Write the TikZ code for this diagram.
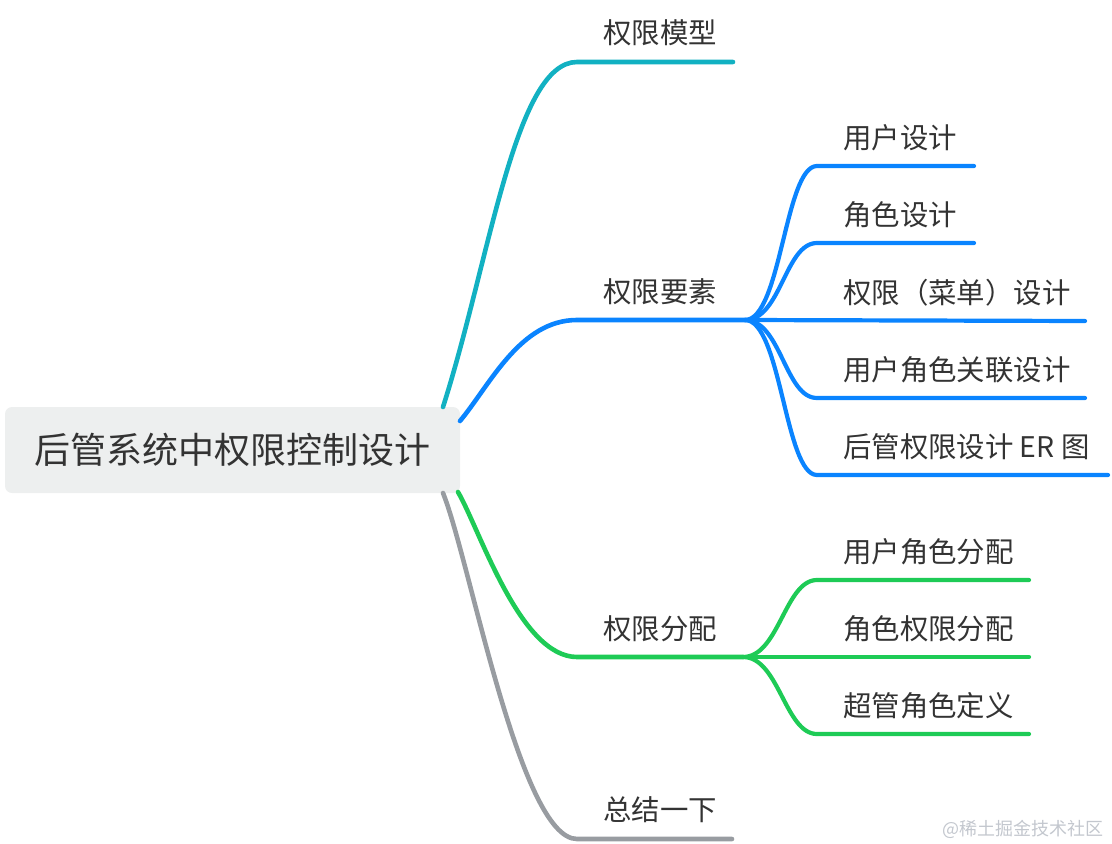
\documentclass[tikz,border=0pt]{standalone}
\usepackage{fontspec}
\setmainfont{Noto Sans CJK SC}
\definecolor{cteal}{HTML}{12B1C2}
\definecolor{cblue}{HTML}{0A84FF}
\definecolor{cgreen}{HTML}{1ECB56}
\definecolor{cgray}{HTML}{989CA1}
\definecolor{rootfill}{HTML}{EDEFEF}
\definecolor{txt}{HTML}{333333}
\definecolor{wm}{HTML}{C3C7CE}
\begin{document}
\begin{tikzpicture}[x=1pt,y=-1pt,line cap=round,
  rootbox/.style={fill=rootfill,rounded corners=7pt,minimum width=455pt,minimum height=86pt,inner sep=0pt,text=txt,font=\fontsize{36}{40}\selectfont},
  lab/.style={anchor=base west,inner sep=0pt,text=txt,font=\fontsize{28.4}{31}\selectfont},
  mainbr/.style={line width=4.6pt},
  subbr/.style={line width=4.2pt}]
\useasboundingbox (0,0) rectangle (1112,844);
\node[rootbox] (root) at (232.5,450) {后管系统中权限控制设计};
% level 1 labels
\node[lab] (m1) at (603,43) {权限模型};
\node[lab] (m2) at (603,302) {权限要素};
\node[lab] (m3) at (603,639) {权限分配};
\node[lab] (m4) at (603,820) {总结一下};
% level 2 labels (blue)
\node[lab] (b1) at (843,148) {用户设计};
\node[lab] (b2) at (843,225) {角色设计};
\node[lab] (b3) at (843,303) {权限（菜单）设计};
\node[lab] (b4) at (843,380) {用户角色关联设计};
\node[lab] (b5) at (843,457) {后管权限设计 ER 图};
% level 2 labels (green)
\node[lab] (g1) at (843,562) {用户角色分配};
\node[lab] (g2) at (843,639) {角色权限分配};
\node[lab] (g3) at (843,716) {超管角色定义};
% coordinates
\coordinate (s1) at (443,407);
\coordinate (s2) at (460,421);
\coordinate (s3) at (458,492);
\coordinate (s4) at (443,493);
\coordinate (e1) at (577,62);  \coordinate (f1) at (733,62);
\coordinate (e2) at (577,320); \coordinate (bp) at (745,320);
\coordinate (e3) at (577,657); \coordinate (gp) at (743,657);
\coordinate (e4) at (577,839); \coordinate (f4) at (732,839);
\coordinate (bc1) at (817,166); \coordinate (bd1) at (974,166);
\coordinate (bc2) at (817,243); \coordinate (bd2) at (974,243);
\coordinate (bd3) at (1085,321);
\coordinate (bc4) at (817,398); \coordinate (bd4) at (1085,398);
\coordinate (bc5) at (817,475); \coordinate (bd5) at (1108,475);
\coordinate (gc1) at (817,580); \coordinate (gd1) at (1029,580);
\coordinate (gd2) at (1029,657);
\coordinate (gc3) at (817,734); \coordinate (gd3) at (1029,734);
% level 1 connectors
\draw[mainbr,cteal] (s1) .. controls (490,260) and (515,62) .. (e1) -- (f1);
\draw[mainbr,cblue] (s2) .. controls (490,385) and (520,320) .. (e2) -- (bp);
\draw[mainbr,cgreen] (s3) .. controls (480,530) and (520,657) .. (e3) -- (gp);
\draw[mainbr,cgray] (s4) .. controls (470,560) and (520,839) .. (e4) -- (f4);
% blue children
\draw[subbr,cblue] (bp) .. controls (781,320) and (785,166) .. (bc1) -- (bd1);
\draw[subbr,cblue] (bp) .. controls (781,320) and (785,243) .. (bc2) -- (bd2);
\draw[subbr,cblue] (bp) -- (bd3);
\draw[subbr,cblue] (bp) .. controls (781,320) and (785,398) .. (bc4) -- (bd4);
\draw[subbr,cblue] (bp) .. controls (781,320) and (785,475) .. (bc5) -- (bd5);
% green children
\draw[subbr,cgreen] (gp) .. controls (779,657) and (785,580) .. (gc1) -- (gd1);
\draw[subbr,cgreen] (gp) -- (gd2);
\draw[subbr,cgreen] (gp) .. controls (779,657) and (785,734) .. (gc3) -- (gd3);
% watermark
\node[anchor=base west,inner sep=0pt,text=wm,font=\fontsize{18}{20}\selectfont] (wmk) at (942,835) {@稀土掘金技术社区};
\end{tikzpicture}
\end{document}
